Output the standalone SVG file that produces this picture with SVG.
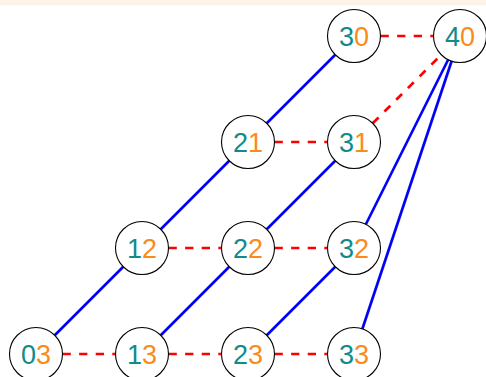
<svg xmlns="http://www.w3.org/2000/svg" width="486" height="377" viewBox="0 0 486 377">
<style>
.n{fill:#fff;stroke:#000;stroke-width:1.1}
.t{font-family:"Liberation Sans",Arial,sans-serif;font-size:27px;text-anchor:middle}
.a{fill:#138a8a}
.b{fill:#fb8a1d}
.s{stroke:#0000ff;stroke-width:2.7;fill:none}
.d{stroke:#ff0000;stroke-width:2.7;fill:none;stroke-dasharray:8.3 8.3}
</style>
<rect x="0" y="0" width="486" height="5.5" fill="#fcf3e8"/>
<g id="connectors">
<line class="s" x1="36" y1="354" x2="354" y2="36"/>
<line class="s" x1="142" y1="354" x2="354" y2="142"/>
<line class="s" x1="248" y1="354" x2="354" y2="248"/>
<line class="s" x1="460" y1="36" x2="354" y2="248"/>
<line class="s" x1="460" y1="36" x2="354" y2="354"/>
<line class="d" x1="380.5" y1="36" x2="433.5" y2="36"/>
<line class="d" x1="274.5" y1="142" x2="327.5" y2="142"/>
<line class="d" x1="372.7" y1="123.3" x2="441.3" y2="54.7"/>
<line class="d" x1="168.5" y1="248" x2="221.5" y2="248"/>
<line class="d" x1="274.5" y1="248" x2="327.5" y2="248"/>
<line class="d" x1="62.5" y1="354" x2="115.5" y2="354"/>
<line class="d" x1="168.5" y1="354" x2="221.5" y2="354"/>
<line class="d" x1="274.5" y1="354" x2="327.5" y2="354"/>
</g>
<g id="n30"><circle class="n" cx="354" cy="36" r="26.5"/><text class="t" x="354" y="46"><tspan class="a">3</tspan><tspan class="b">0</tspan></text></g>
<g id="n40"><circle class="n" cx="460" cy="36" r="26.5"/><text class="t" x="460" y="46"><tspan class="a">4</tspan><tspan class="b">0</tspan></text></g>
<g id="n21"><circle class="n" cx="248" cy="142" r="26.5"/><text class="t" x="248" y="152"><tspan class="a">2</tspan><tspan class="b">1</tspan></text></g>
<g id="n31"><circle class="n" cx="354" cy="142" r="26.5"/><text class="t" x="354" y="152"><tspan class="a">3</tspan><tspan class="b">1</tspan></text></g>
<g id="n12"><circle class="n" cx="142" cy="248" r="26.5"/><text class="t" x="142" y="258"><tspan class="a">1</tspan><tspan class="b">2</tspan></text></g>
<g id="n22"><circle class="n" cx="248" cy="248" r="26.5"/><text class="t" x="248" y="258"><tspan class="a">2</tspan><tspan class="b">2</tspan></text></g>
<g id="n32"><circle class="n" cx="354" cy="248" r="26.5"/><text class="t" x="354" y="258"><tspan class="a">3</tspan><tspan class="b">2</tspan></text></g>
<g id="n03"><circle class="n" cx="36" cy="354" r="26.5"/><text class="t" x="36" y="364"><tspan class="a">0</tspan><tspan class="b">3</tspan></text></g>
<g id="n13"><circle class="n" cx="142" cy="354" r="26.5"/><text class="t" x="142" y="364"><tspan class="a">1</tspan><tspan class="b">3</tspan></text></g>
<g id="n23"><circle class="n" cx="248" cy="354" r="26.5"/><text class="t" x="248" y="364"><tspan class="a">2</tspan><tspan class="b">3</tspan></text></g>
<g id="n33"><circle class="n" cx="354" cy="354" r="26.5"/><text class="t" x="354" y="364"><tspan class="a">3</tspan><tspan class="b">3</tspan></text></g>
</svg>
